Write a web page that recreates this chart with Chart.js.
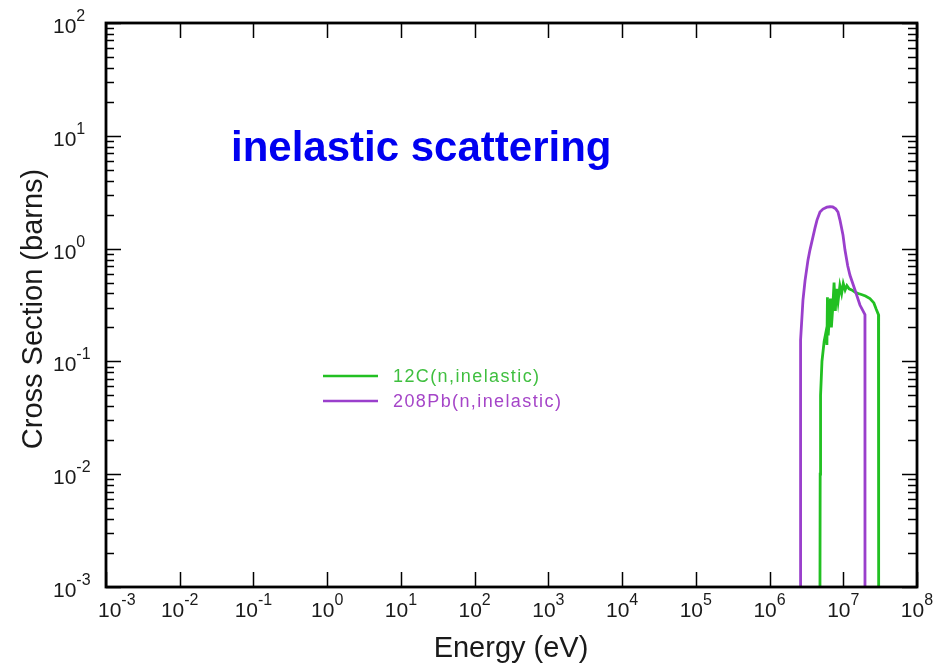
<!DOCTYPE html>
<html>
<head>
<meta charset="utf-8">
<script src="https://cdn.jsdelivr.net/npm/chart.js@4.4.1/dist/chart.umd.min.js"></script>
<style>
  html, body { margin: 0; padding: 0; background: #fff; }
  #wrap { width: 939px; height: 663px; }
</style>
</head>
<body>
<div id="wrap"><canvas id="xs" width="939" height="663"></canvas></div>
<script>
// 12C(n,inelastic) - energia (eV) y seccion eficaz (barns)
const c12Energy = [4.83e6, 4.86e6, 4.92e6, 5.14e6, 5.5e6, 5.9e6, 6.0e6, 6.1e6, 6.25e6, 6.5e6, 6.7e6, 6.9e6,
  7.2e6, 7.5e6, 7.8e6, 8.1e6, 8.5e6, 9.0e6, 9.5e6, 1.0e7, 1.06e7, 1.12e7, 1.2e7, 1.3e7, 1.45e7,
  1.6e7, 1.8e7, 2.0e7, 2.3e7, 2.6e7, 2.8e7, 3.0e7, 3.02e7];
const c12Sigma = [0.001, 0.01, 0.05, 0.10, 0.15, 0.19, 0.14, 0.37, 0.17, 0.26, 0.36, 0.20,
  0.30, 0.50, 0.28, 0.44, 0.34, 0.47, 0.40, 0.49, 0.43, 0.47, 0.44, 0.43, 0.41,
  0.40, 0.39, 0.38, 0.36, 0.33, 0.29, 0.26, 0.001];

// 208Pb(n,inelastic)
const pbEnergy = [2.59e6, 2.60e6, 2.64e6, 2.67e6, 2.84e6, 3.03e6, 3.32e6, 3.53e6, 3.88e6, 4.13e6, 4.4e6,
  4.83e6, 5.3e6, 6.0e6, 6.61e6, 7.2e6, 7.9e6, 8.47e6, 9.02e6, 9.91e6, 1.055e7, 1.15e7, 1.233e7,
  1.442e7, 1.683e7, 1.968e7, 1.97e7];
const pbSigma = [0.001, 0.03, 0.10, 0.155, 0.35, 0.52, 0.79, 0.97, 1.27, 1.52, 1.79,
  2.11, 2.24, 2.33, 2.35, 2.34, 2.25, 2.11, 1.79, 1.32, 0.97, 0.70, 0.58,
  0.43, 0.316, 0.26, 0.001];

const seriesNames = ['12C(n,inelastic)', '208Pb(n,inelastic)'];
const seriesColors = ['#22c022', '#9a3fcc'];
const legendTextColors = ['#3fbf3f', '#a545c8'];

// exponentes de las marcas (potencias de 10)
const xTickExp = [-3, -2, -1, 0, 1, 2, 3, 4, 5, 6, 7, 8];
const yTickExp = [-3, -2, -1, 0, 1, 2];

function puntos(xs, ys) {
    return xs.map((x, i) => ({ x: x, y: ys[i] }));
}

const FONT = '"Liberation Sans", Arial, sans-serif';

// Marco, marcas, etiquetas y textos
const marcoPlugin = {
    id: 'marco',
    beforeDraw(chart) {
        const ctx = chart.ctx;
        ctx.save();
        ctx.fillStyle = '#fff';
        ctx.fillRect(0, 0, chart.width, chart.height);
        ctx.restore();
    },
    afterDraw(chart) {
        const ctx = chart.ctx;
        const a = chart.chartArea;
        const sx = chart.scales.x;
        const sy = chart.scales.y;
        ctx.save();

        // marcas eje x (solo mayores, abajo y arriba)
        ctx.strokeStyle = '#000';
        ctx.lineWidth = 1.5;
        ctx.beginPath();
        xTickExp.forEach(e => {
            const px = Math.round(sx.getPixelForValue(Math.pow(10, e))) + 0.5;
            ctx.moveTo(px, a.bottom); ctx.lineTo(px, a.bottom - 15);
            ctx.moveTo(px, a.top); ctx.lineTo(px, a.top + 15);
        });
        // marcas eje y (mayores y menores, izquierda y derecha)
        yTickExp.forEach(e => {
            const py = Math.round(sy.getPixelForValue(Math.pow(10, e))) + 0.5;
            ctx.moveTo(a.left, py); ctx.lineTo(a.left + 15, py);
            ctx.moveTo(a.right, py); ctx.lineTo(a.right - 15, py);
            if (e < 2) {
                for (let m = 2; m <= 9; m++) {
                    const pm = Math.round(sy.getPixelForValue(m * Math.pow(10, e))) + 0.5;
                    ctx.moveTo(a.left, pm); ctx.lineTo(a.left + 8, pm);
                    ctx.moveTo(a.right, pm); ctx.lineTo(a.right - 9, pm);
                }
            }
        });
        ctx.stroke();

        // marco
        ctx.lineWidth = 2.8;
        ctx.strokeRect(a.left, a.top, a.right - a.left, a.bottom - a.top);

        // etiquetas eje x
        ctx.fillStyle = '#1a1a1a';
        ctx.textBaseline = 'alphabetic';
        xTickExp.forEach((e, i) => {
            const px = sx.getPixelForValue(Math.pow(10, e));
            ctx.font = '21px ' + FONT;
            const wBase = ctx.measureText('10').width;
            ctx.font = '16px ' + FONT;
            const wExp = ctx.measureText(String(e)).width;
            let x0 = px - (wBase + wExp) / 2;
            if (i === 0) x0 = px - 8;
            ctx.font = '21px ' + FONT;
            ctx.fillText('10', x0, 617);
            ctx.font = '16px ' + FONT;
            ctx.fillText(String(e), x0 + wBase, 605);
        });

        // etiquetas eje y
        yTickExp.forEach(e => {
            const py = sy.getPixelForValue(Math.pow(10, e));
            ctx.font = '21px ' + FONT;
            const wBase = ctx.measureText('10').width;
            ctx.fillText('10', 53, py + 10);
            ctx.font = '16px ' + FONT;
            ctx.fillText(String(e), 53 + wBase, py - 2);
        });

        // titulos de ejes
        ctx.font = '29px ' + FONT;
        ctx.textAlign = 'center';
        ctx.fillText('Energy (eV)', 511, 657);
        ctx.save();
        ctx.translate(42, 309);
        ctx.rotate(-Math.PI / 2);
        ctx.fillText('Cross Section (barns)', 0, 0);
        ctx.restore();

        // titulo del grafico
        ctx.textAlign = 'left';
        ctx.fillStyle = '#0000f0';
        ctx.font = 'bold 42px ' + FONT;
        ctx.fillText('inelastic scattering', 231, 161);

        // leyenda
        const legY = [376, 401];
        seriesNames.forEach((nombre, i) => {
            ctx.strokeStyle = seriesColors[i];
            ctx.lineWidth = 2.5;
            ctx.beginPath();
            ctx.moveTo(323, legY[i]);
            ctx.lineTo(378, legY[i]);
            ctx.stroke();
            ctx.fillStyle = legendTextColors[i];
            ctx.font = '18px ' + FONT;
            ctx.letterSpacing = '1.4px';
            ctx.textBaseline = 'middle';
            ctx.fillText(nombre, 393, legY[i] + 1);
            ctx.letterSpacing = '0px';
        });

        ctx.restore();
    }
};

new Chart(document.getElementById('xs'), {
    type: 'line',
    data: {
        datasets: [
            {
                label: seriesNames[0],
                data: puntos(c12Energy, c12Sigma),
                borderColor: seriesColors[0],
                borderWidth: 2.8,
                pointRadius: 0,
                tension: 0,
                order: 2
            },
            {
                label: seriesNames[1],
                data: puntos(pbEnergy, pbSigma),
                borderColor: seriesColors[1],
                borderWidth: 2.8,
                pointRadius: 0,
                tension: 0,
                order: 1
            }
        ]
    },
    options: {
        responsive: false,
        animation: false,
        events: [],
        layout: { padding: { left: 106, right: 22, top: 23, bottom: 76 } },
        plugins: { legend: { display: false }, tooltip: { enabled: false } },
        scales: {
            x: { type: 'logarithmic', min: 1e-3, max: 1e8, display: false },
            y: { type: 'logarithmic', min: 1e-3, max: 1e2, display: false }
        }
    },
    plugins: [marcoPlugin]
});
</script>
</body>
</html>
